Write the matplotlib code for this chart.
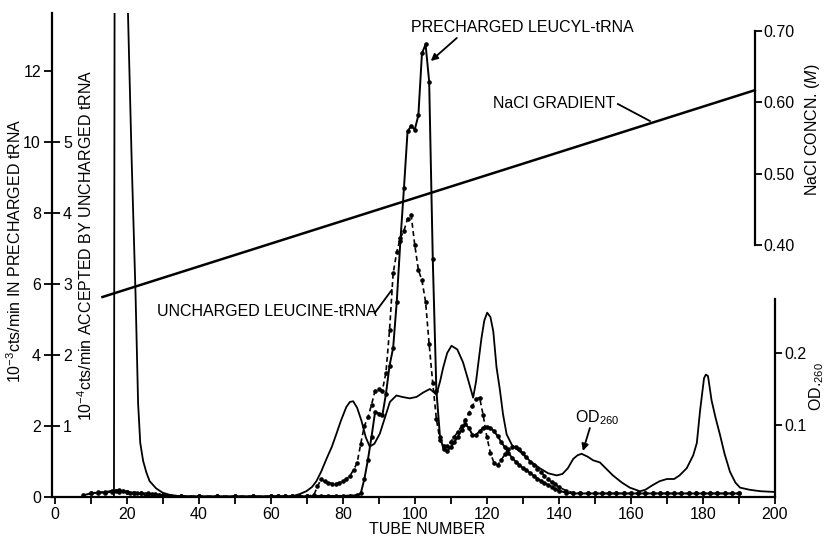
import matplotlib
matplotlib.use('Agg')
import matplotlib.pyplot as plt
import numpy as np

plt.rcParams['font.family'] = ['Liberation Sans', 'DejaVu Sans']
plt.rcParams['mathtext.fontset'] = 'custom'
plt.rcParams['mathtext.rm'] = 'Liberation Sans'
plt.rcParams['mathtext.it'] = 'Liberation Sans:italic'
plt.rcParams['mathtext.bf'] = 'Liberation Sans:bold'

# precharged leucyl-tRNA, 10^-3 cts/min
pre_tubes = [8, 10, 12, 14, 16, 17, 18, 19, 20, 21, 22, 23, 24, 25, 26, 27, 28, 29, 30,
             32, 35, 40, 45, 50, 55, 60, 62, 64, 66, 68, 70, 72, 74, 76, 78, 80, 82, 84,
             85, 86, 87, 88, 89, 90, 91, 92, 93, 94, 95, 96, 97, 98, 99, 100, 101, 102,
             103, 104, 105, 106, 107, 108, 109, 110, 111, 112, 113, 114, 115, 116, 117,
             118, 119, 120, 121, 122, 123, 124, 125, 126, 127, 128, 129, 130, 131, 132,
             133, 134, 135, 136, 137, 138, 139, 140, 142, 144, 146, 148, 150, 152, 154,
             156, 158, 160, 162, 164, 166, 168, 170, 172, 174, 176, 178, 180, 182, 184,
             186, 188, 190]
pre_counts = [0.05, 0.1, 0.12, 0.12, 0.15, 0.18, 0.15, 0.18, 0.15, 0.12, 0.12, 0.1, 0.1,
              0.08, 0.08, 0.08, 0.06, 0.06, 0.05, 0.03, 0.02, 0.02, 0.02, 0.02, 0.02, 0.02,
              0.02, 0.02, 0.02, 0.02, 0.02, 0.03, 0.03, 0.03, 0.03, 0.03, 0.04, 0.05,
              0.1, 0.5, 1.05, 1.7, 2.4, 2.35, 2.3, 2.9, 3.7, 4.2, 5.5, 7.2, 8.7, 10.3, 10.45,
              10.35, 10.75, 12.5, 12.75, 11.7, 6.7, 3.0, 1.7, 1.35, 1.3, 1.4, 1.55, 1.7,
              1.9, 2.05, 1.95, 1.75, 1.75, 1.85, 1.95, 1.98, 1.95, 1.85, 1.72, 1.55, 1.4,
              1.25, 1.1, 1.0, 0.9, 0.82, 0.75, 0.68, 0.6, 0.52, 0.46, 0.4, 0.34, 0.28, 0.23,
              0.18, 0.12, 0.1, 0.1, 0.1, 0.1, 0.1, 0.1, 0.1, 0.1, 0.1, 0.1, 0.1, 0.1, 0.1,
              0.1, 0.1, 0.1, 0.1, 0.1, 0.1, 0.1, 0.1, 0.1, 0.1, 0.1]

# uncharged leucine-tRNA, 10^-4 cts/min accepted
unc_tubes = [10, 12, 14, 16, 18, 20, 22, 24, 26, 28, 30, 32, 35, 40, 45, 50, 55, 60, 62,
             64, 66, 68, 70, 72, 73, 74, 75, 76, 77, 78, 79, 80, 81, 82, 83, 84, 85, 86,
             87, 88, 89, 90, 91, 92, 93, 94, 95, 96, 97, 98, 99, 100, 101, 102, 103, 104,
             105, 106, 107, 108, 109, 110, 111, 112, 113, 114, 115, 116, 117, 118, 119,
             120, 121, 122, 123, 124, 125, 126, 127, 128, 129, 130, 131, 132, 133, 134,
             135, 136, 137, 138, 139, 140, 142, 144, 146, 148, 150, 152, 154, 156, 158,
             160, 162, 164, 166, 168, 170, 172, 174, 176, 178, 180, 182, 184, 186, 188, 190]
unc_counts = [0.05, 0.07, 0.07, 0.09, 0.1, 0.07, 0.06, 0.05, 0.05, 0.04, 0.03, 0.01, 0.01,
              0.01, 0.01, 0.01, 0.01, 0.01, 0.01, 0.01, 0.01, 0.01, 0.01, 0.03, 0.15, 0.25,
              0.22, 0.2, 0.19, 0.19, 0.2, 0.22, 0.25, 0.3, 0.38, 0.48, 0.75, 1.0, 1.12, 1.3,
              1.5, 1.52, 1.5, 1.75, 2.35, 3.15, 3.45, 3.65, 3.75, 3.92, 3.97, 3.55, 3.2,
              3.05, 2.75, 2.15, 1.6, 1.1, 0.8, 0.72, 0.72, 0.78, 0.85, 0.92, 1.0, 1.08, 1.18,
              1.28, 1.38, 1.4, 1.15, 0.85, 0.62, 0.48, 0.45, 0.52, 0.6, 0.68, 0.71, 0.71,
              0.68, 0.62, 0.56, 0.5, 0.45, 0.4, 0.35, 0.3, 0.25, 0.21, 0.18, 0.14, 0.09,
              0.06, 0.05, 0.05, 0.05, 0.05, 0.05, 0.05, 0.05, 0.05, 0.05, 0.05, 0.05, 0.05,
              0.05, 0.05, 0.05, 0.05, 0.05, 0.05, 0.05, 0.05, 0.05, 0.05, 0.05]

# absorbance profile
od_tubes = [16.5, 16.8, 20.0, 20.3, 21.4, 22.5, 23.2, 23.8, 24.6, 25.5, 26.4, 28.2, 30, 32,
            35, 40, 50, 60, 66, 68, 69.9, 71.5, 72.7, 74, 75.5, 77, 78.2, 79.5, 81, 82,
            82.9, 84, 85.2, 86.4, 87.5, 88.8, 90.3, 91.7, 93.1, 94.9, 96.5, 98.6, 100.5,
            102.3, 104.2, 105.2, 106, 107, 107.9, 109, 110.2, 111.8, 113.4, 114.8, 116.2,
            117, 118.5, 119.3, 120.1, 121, 121.8, 122.7, 123.6, 124.5, 125.5, 127, 129.2,
            132, 134.7, 137, 139.4, 141, 142.5, 144, 145.2, 146.3, 148, 149.5, 151.4, 153,
            155, 157.5, 159.7, 162.5, 164, 166.2, 168, 170, 172, 173.5, 175.5, 177.3,
            178.3, 179.2, 180.3, 180.8, 181.4, 182.4, 183.5, 184.7, 186, 187.5, 189, 190.3,
            193, 196, 200]
od_values = [0.0, 1.2, 1.2, 0.69, 0.47, 0.28, 0.13, 0.075, 0.05, 0.034, 0.022, 0.012, 0.006,
             0.003, 0.001, 0.0, 0.0, 0.0, 0.001, 0.004, 0.008, 0.014, 0.022, 0.035,
             0.053, 0.07, 0.087, 0.106, 0.125, 0.132, 0.133, 0.124, 0.106, 0.083, 0.07,
             0.074, 0.088, 0.11, 0.132, 0.141, 0.139, 0.137, 0.139, 0.145, 0.15, 0.146,
             0.142, 0.16, 0.18, 0.2, 0.21, 0.205, 0.187, 0.163, 0.138, 0.16, 0.22, 0.245,
             0.256, 0.25, 0.23, 0.18, 0.15, 0.115, 0.087, 0.072, 0.063, 0.05, 0.04, 0.033,
             0.03, 0.032, 0.04, 0.053, 0.058, 0.06, 0.056, 0.051, 0.048, 0.04, 0.03, 0.02,
             0.013, 0.008, 0.01, 0.017, 0.022, 0.025, 0.025, 0.03, 0.04, 0.058, 0.075, 0.12,
             0.165, 0.17, 0.168, 0.134, 0.11, 0.087, 0.06, 0.035, 0.02, 0.013, 0.01, 0.008,
             0.007]

# salt gradient end points
nacl_tubes = [13.3, 194.4]
nacl_conc = [0.327, 0.617]

FS = 11.5
W, H = 826, 540


def generate_chart():
    fig = plt.figure(figsize=(W / 100, H / 100), dpi=100)
    fig.patch.set_facecolor('white')
    x0, x1, yb, yt = 52, 775, 497, 13
    ax = fig.add_axes([x0 / W, (H - yb) / H, (x1 - x0) / W, (yb - yt) / H])
    ax.set_xlim(-0.7, 200)
    ax.set_ylim(0, (yb - yt) / 35.5)

    for s in ['top', 'right']:
        ax.spines[s].set_visible(False)
    for s in ['left', 'bottom']:
        ax.spines[s].set_linewidth(1.6)

    ax.set_xticks(np.arange(0, 201, 20))
    ax.set_xticks(np.arange(10, 200, 20), minor=True)
    ax.set_yticks(np.arange(0, 13, 2))
    ax.tick_params(axis='x', which='both', direction='out', length=5, width=1.3,
                   pad=2, labelsize=FS)
    ax.tick_params(axis='y', direction='out', length=6, width=1.3, pad=2, labelsize=FS)

    # inner scale for uncharged tRNA, on the same left spine
    ax_u = ax.twinx()
    ax_u.set_ylim(0, (yb - yt) / 35.5 / 2)
    for s in ['top', 'left', 'bottom', 'right']:
        ax_u.spines[s].set_visible(False)
    ax_u.spines['right'].set_position(('axes', 0))
    ax_u.set_yticks([1, 2, 3, 4, 5])
    ax_u.tick_params(axis='y', direction='out', length=6, width=1.3, pad=2, labelsize=FS)

    # NaCl axis
    ax_na = ax.twinx()
    ax_na.set_ylim(0.40 - (yb - 245) / 713, 0.70 + (31 - yt) / 713)
    for s in ['top', 'left', 'bottom']:
        ax_na.spines[s].set_visible(False)
    ax_na.spines['right'].set_position(('data', 194.4))
    ax_na.spines['right'].set_bounds(0.40, 0.70)
    ax_na.spines['right'].set_linewidth(1.6)
    ax_na.set_yticks([0.40, 0.50, 0.60, 0.70])
    ax_na.set_yticklabels(['0.40', '0.50', '0.60', '0.70'])
    ax_na.tick_params(axis='y', direction='out', length=5, width=1.3, pad=1, labelsize=FS)

    # OD axis, 72 px per 0.1
    ax_od = ax.twinx()
    ax_od.set_ylim(0, (yb - yt) / 720)
    for s in ['top', 'left', 'bottom']:
        ax_od.spines[s].set_visible(False)
    ax_od.spines['right'].set_bounds(0, 0.275)
    ax_od.spines['right'].set_linewidth(1.6)
    ax_od.set_yticks([0.1, 0.2])
    ax_od.set_yticklabels(['0.1', '0.2'])
    ax_od.tick_params(axis='y', direction='out', length=5, width=1.3, pad=2, labelsize=FS)

    ax.plot(pre_tubes, pre_counts, color='black', lw=1.4, marker='o', ms=2.3,
            solid_joinstyle='round')
    ax_u.plot(unc_tubes, unc_counts, color='black', lw=1.2, ls=(0, (3, 2)),
              marker='o', ms=2.3)
    ax_od.plot(od_tubes, od_values, color='black', lw=1.3)
    ax_na.plot(nacl_tubes, nacl_conc, color='black', lw=1.8)

    # annotations, in left-axis data units
    def px(xp, yp):
        return ((xp - 55) / 3.6, (yb - yp) / 35.5)

    ax.text(*px(411, 27), 'PRECHARGED LEUCYL-tRNA', fontsize=FS, ha='left', va='center')
    ax.annotate('', xy=px(431, 61), xytext=px(457, 38),
                arrowprops=dict(arrowstyle='-|>', color='black', lw=1.3,
                                mutation_scale=10, shrinkA=0, shrinkB=0))
    ax.text(*px(493, 104), 'NaCl GRADIENT', fontsize=FS, ha='left', va='center')
    ax.plot(*zip(px(618, 104), px(650, 121)), color='black', lw=1.3)
    ax.text(*px(157, 312), 'UNCHARGED LEUCINE-tRNA', fontsize=FS, ha='left', va='center')
    ax.plot(*zip(px(375, 313), px(392, 290)), color='black', lw=1.3)
    ax.text(*px(575, 418), 'OD$_{260}$', fontsize=FS, ha='left', va='center')
    ax.annotate('', xy=px(583, 451), xytext=px(590, 428),
                arrowprops=dict(arrowstyle='-|>', color='black', lw=1.3,
                                mutation_scale=10, shrinkA=0, shrinkB=0))

    fig.text(427 / W, 1 - 529 / H, 'TUBE NUMBER', fontsize=FS, ha='center', va='center')
    fig.text(15 / W, 1 - 251 / H, '10$^{-3}$cts/min IN PRECHARGED tRNA', fontsize=FS,
             rotation=90, ha='center', va='center')
    fig.text(86 / W, 1 - 245 / H, '10$^{-4}$cts/min ACCEPTED BY UNCHARGED tRNA',
             fontsize=FS, rotation=90, ha='center', va='center')
    fig.text(813 / W, 1 - 130 / H, 'NaCl CONCN. ($\\it{M}$)', fontsize=FS,
             rotation=90, ha='center', va='center')
    fig.text(817 / W, 1 - 387 / H, 'OD.$_{260}$', fontsize=FS, rotation=90,
             ha='center', va='center')

    fig.savefig('out.png', dpi=100, facecolor='white')
    plt.close(fig)


if __name__ == '__main__':
    generate_chart()
